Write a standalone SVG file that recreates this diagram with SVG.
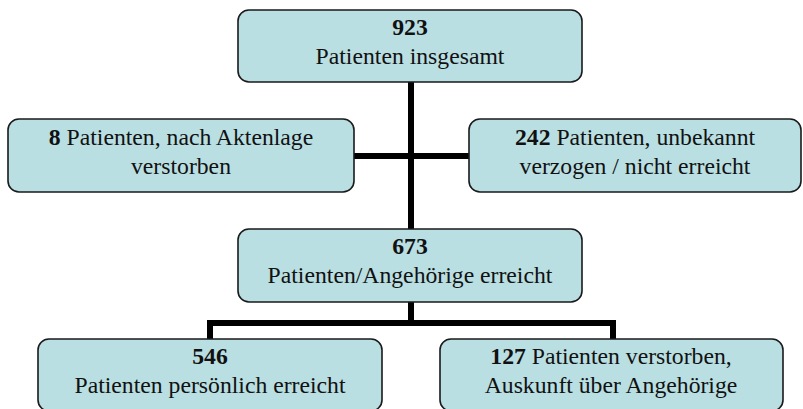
<svg xmlns="http://www.w3.org/2000/svg" width="803" height="409" viewBox="0 0 803 409">
<style>
.box{fill:#b9dfe3;stroke:#1a1a1a;stroke-width:1.6}
text{font-family:'Liberation Serif','Times New Roman',Tinos,'DejaVu Serif',serif;font-size:23.7px;fill:#111;text-anchor:middle}
.b{font-weight:bold}
.c{stroke:#000;stroke-width:6;fill:none}
</style>
<rect width="803" height="409" fill="#fff"/>
<g id="connectors">
<line class="c" x1="411" y1="82" x2="411" y2="229"/>
<line class="c" x1="354" y1="156" x2="469" y2="156" stroke-width="5"/>
<path class="c" d="M411 302V323M210 339V323H613V339"/>
</g>
<g id="n923" font-family="Liberation Serif, serif">
<rect class="box" x="238" y="10" width="344" height="72" rx="11"/>
<text x="410" y="35"><tspan class="b">923</tspan></text>
<text x="410" y="64">Patienten insgesamt</text>
</g>
<g id="n8" font-family="Liberation Serif, serif">
<rect class="box" x="8" y="119" width="346" height="73" rx="11"/>
<text x="181" y="145"><tspan class="b">8</tspan> Patienten, nach Aktenlage</text>
<text x="181" y="174">verstorben</text>
</g>
<g id="n242" font-family="Liberation Serif, serif">
<rect class="box" x="469" y="119" width="332" height="73" rx="11"/>
<text x="635" y="145"><tspan class="b">242</tspan> Patienten, unbekannt</text>
<text x="635" y="174">verzogen / nicht erreicht</text>
</g>
<g id="n673" font-family="Liberation Serif, serif">
<rect class="box" x="238" y="229" width="344" height="73" rx="11"/>
<text x="410" y="254"><tspan class="b">673</tspan></text>
<text x="410" y="283">Patienten/Angehörige erreicht</text>
</g>
<g id="n546" font-family="Liberation Serif, serif">
<rect class="box" x="38" y="339" width="344" height="72" rx="11"/>
<text x="210" y="364"><tspan class="b">546</tspan></text>
<text x="210" y="393">Patienten persönlich erreicht</text>
</g>
<g id="n127" font-family="Liberation Serif, serif">
<rect class="box" x="440" y="339" width="343" height="72" rx="11"/>
<text x="611" y="364"><tspan class="b">127</tspan> Patienten verstorben,</text>
<text x="611" y="393">Auskunft über Angehörige</text>
</g>
</svg>
